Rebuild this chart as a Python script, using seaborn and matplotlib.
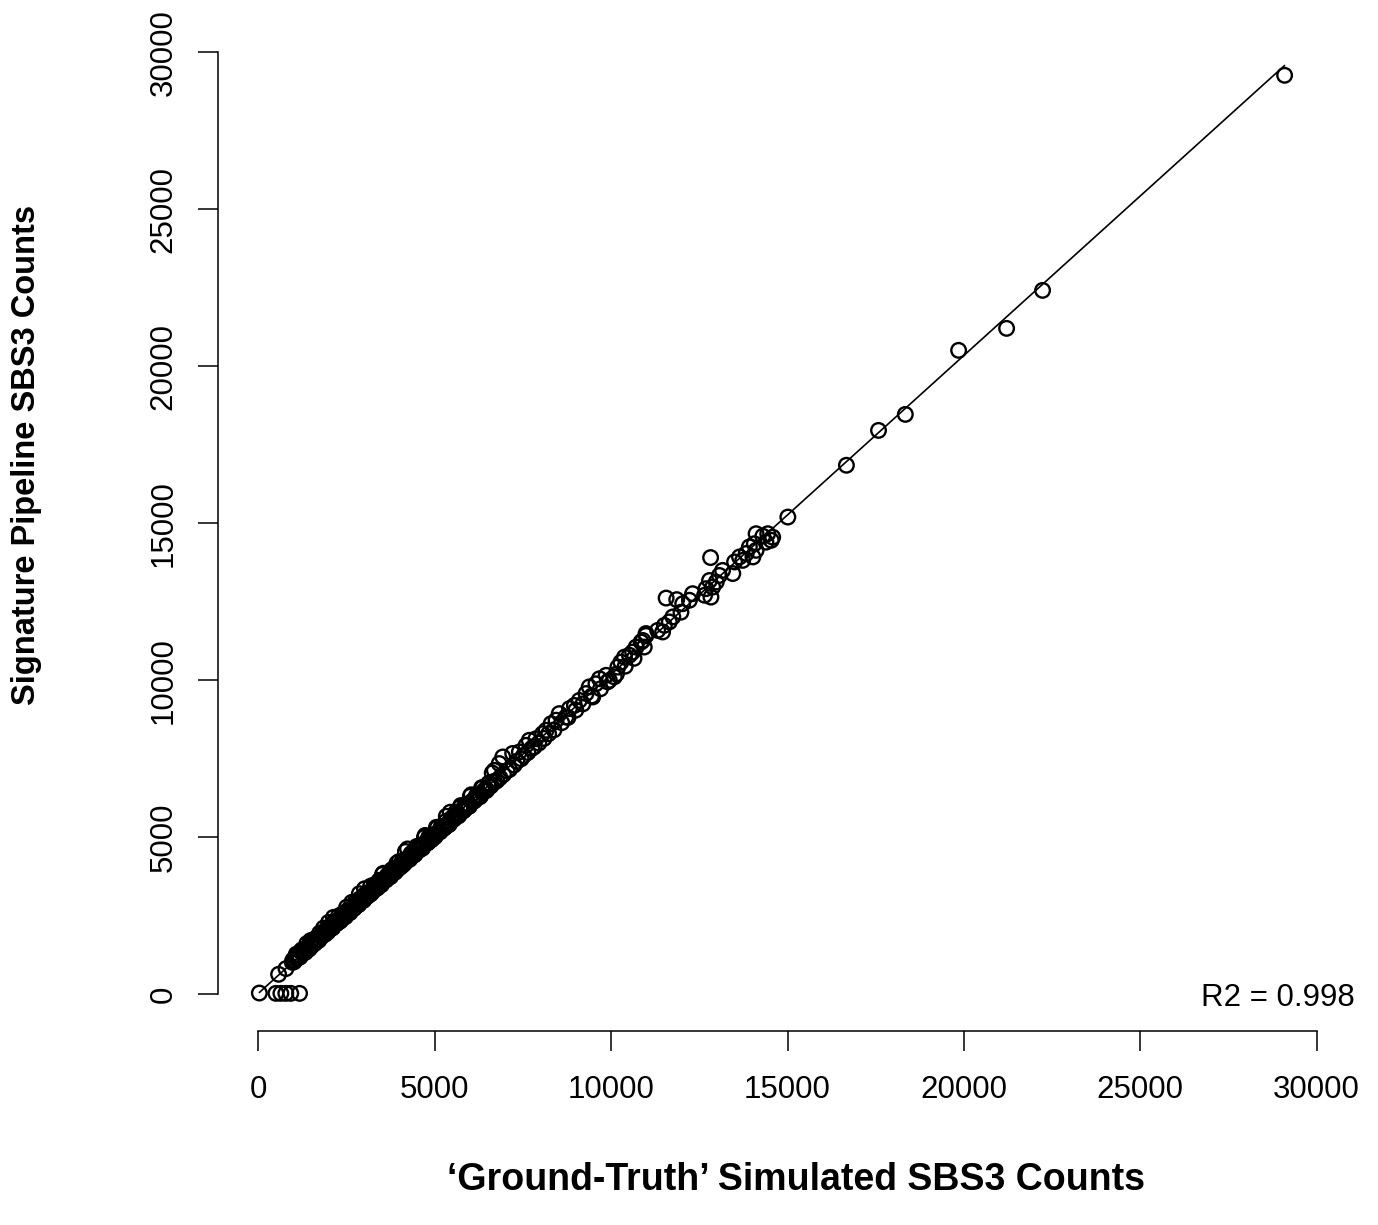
import numpy as np
import pandas as pd
import matplotlib
matplotlib.use("Agg")
import matplotlib.pyplot as plt
import seaborn as sns

sns.set_style("ticks")
plt.rcParams['font.family'] = ['Liberation Sans', 'DejaVu Sans']
plt.rcParams['text.color'] = 'black'
plt.rcParams['axes.labelcolor'] = 'black'
plt.rcParams['xtick.color'] = 'black'
plt.rcParams['ytick.color'] = 'black'

# Samples whose pipeline count collapsed to ~0
zero_truth = [30, 500, 640, 780, 920, 1170]
zero_pipe = [40, 30, 30, 30, 30, 30]

# Low-count samples near the origin
low_truth = [576, 785]
low_pipe = [637, 818]

# Dense bulk of samples (1k - 6.6k)
band_truth = [960, 1010, 1060, 1100, 1150, 1190, 1230, 1280, 1320, 1350, 1400, 1440, 1480, 1520,
              1560, 1600, 1640, 1690, 1720, 1760, 1800, 1850, 1880, 1920, 1970, 2010, 2040, 2090,
              2130, 2170, 2200, 2250, 2290, 2320, 2370, 2410, 2450, 2480, 2530, 2570, 2600, 2650,
              2690, 2730, 2760, 2810, 2850, 2880, 2930, 2970, 3010, 3040, 3090, 3130, 3170, 3200,
              3250, 3290, 3330, 3360, 3410, 3450, 3490, 3520, 3570, 3610, 3650, 3680, 3730, 3770,
              3810, 3850, 3880, 3930, 3970, 4010, 4050, 4080, 4130, 4170, 4210, 4250, 4290, 4330,
              4370, 4410, 4450, 4490, 4530, 4570, 4610, 4650, 4690, 4730, 4770, 4810, 4850, 4890,
              4930, 4970, 5010, 5050, 5090, 5140, 5180, 5220, 5270, 5310, 5350, 5400, 5440, 5490,
              5530, 5580, 5620, 5670, 5720, 5760, 5810, 5860, 5910, 5960, 6010, 6060, 6110, 6170,
              6220, 6280, 6330, 6390, 6450, 6510, 6570, 6630]
band_pipe = [1020, 1030, 1200, 1140, 1240, 1200, 1410, 1330, 1350, 1460, 1470, 1440, 1710, 1560,
             1650, 1620, 1790, 1750, 1730, 1860, 1840, 2110, 1910, 2000, 1985, 2140, 2090, 2110,
             2450, 2230, 2300, 2280, 2360, 2330, 2550, 2450, 2540, 2500, 2670, 2630, 2600, 2930,
             2740, 2840, 2790, 2890, 2860, 3040, 2970, 2990, 3360, 3110, 3120, 3250, 3220, 3210,
             3340, 3490, 3370, 3380, 3540, 3510, 3490, 3820, 3650, 3640, 3760, 3730, 3750, 3940,
             3850, 3940, 3890, 4180, 4030, 4040, 4170, 4150, 4150, 4550, 4260, 4350, 4300, 4480,
             4410, 4490, 4470, 4710, 4590, 4600, 4740, 4650, 4780, 5060, 4820, 4830, 5010, 4960,
             4970, 5080, 5020, 5320, 5150, 5170, 5320, 5300, 5290, 5500, 5400, 5400, 5800, 5580,
             5570, 5700, 5680, 5680, 5950, 5830, 5840, 6010, 5960, 5980, 6310, 6150, 6150, 6300,
             6280, 6290, 6580, 6470, 6480, 6690, 6620, 7050]

band2_truth = [985, 1035, 1080, 1125, 1170, 1210, 1255, 1300, 1335, 1375, 1420, 1460, 1500, 1540,
               1580, 1620, 1665, 1705, 1740, 1780, 1825, 1865, 1900, 1945, 1990, 2025, 2065, 2110,
               2150, 2185, 2225, 2270, 2305, 2345, 2390, 2430, 2465, 2505, 2550, 2585, 2625, 2670,
               2710, 2745, 2785, 2830, 2865, 2905, 2950, 2990, 3025, 3065, 3110, 3150, 3185, 3225,
               3270, 3310, 3345, 3385, 3430, 3470, 3505, 3545, 3590, 3630, 3665, 3705, 3750, 3790,
               3830, 3865, 3905, 3950, 3990, 4030, 4065, 4105, 4150, 4190, 4230, 4270, 4310, 4350,
               4390, 4430, 4470, 4510, 4550, 4590, 4630, 4670, 4710, 4750, 4790, 4830, 4870, 4910,
               4950, 4990, 5030, 5070, 5115, 5160, 5200, 5245, 5290, 5330, 5375, 5420, 5465, 5510,
               5555, 5600, 5645, 5695, 5740, 5785, 5835, 5885, 5935, 5985, 6035, 6085, 6140, 6195,
               6250, 6305, 6360, 6420, 6480, 6540, 6600, 6665]
band2_pipe = [1095, 1065, 1280, 1195, 1180, 1360, 1305, 1390, 1335, 1615, 1460, 1580, 1520, 1620,
              1750, 1650, 1725, 1715, 1950, 1870, 1875, 1995, 1920, 2015, 2290, 2065, 2165, 2120,
              2310, 2245, 2255, 2490, 2385, 2365, 2530, 2480, 2465, 2775, 2640, 2625, 2735, 2730,
              2730, 2935, 2855, 2860, 3205, 2955, 3050, 3000, 3175, 3105, 3190, 3170, 3445, 3285,
              3300, 3430, 3435, 3395, 3630, 3520, 3545, 3855, 3660, 3650, 3795, 3765, 3750, 3970,
              3910, 3905, 4015, 3980, 4230, 4090, 4085, 4255, 4240, 4230, 4630, 4340, 4340, 4470,
              4440, 4440, 4670, 4590, 4590, 4730, 4690, 4690, 5000, 4840, 4820, 5000, 4920, 4920,
              5070, 5060, 5070, 5300, 5175, 5180, 5350, 5335, 5320, 5670, 5425, 5430, 5595, 5590,
              5595, 5800, 5705, 5715, 6010, 5875, 5865, 6045, 5985, 5995, 6355, 6155, 6180, 6335,
              6310, 6325, 6580, 6500, 6510, 6730, 6650, 6775]

# Mid-range samples (6.6k - 11k)
mid_truth = [6690, 6700, 6760, 6830, 6850, 6930, 6950, 7050, 7120, 7210, 7250, 7330, 7400, 7450,
             7520, 7590, 7640, 7680, 7750, 7820, 7870, 7950, 8060, 8100, 8160, 8230, 8300, 8380,
             8440, 8530, 8600, 8720, 8780, 8820, 8960, 9000, 9100, 9200, 9290, 9380, 9450, 9480,
             9570, 9670, 9700, 9860, 9900, 9950, 10090, 10150, 10190, 10280, 10380, 10400, 10520,
             10610, 10650, 10710, 10850, 10900, 10940, 10990, 10990, 11320]
mid_pipe = [7130, 6760, 6800, 7350, 6900, 7560, 7000, 7120, 7160, 7670, 7300, 7420, 7720, 7500,
            7600, 7930, 7700, 8090, 7830, 7880, 8140, 8000, 8300, 8150, 8410, 8300, 8620, 8420,
            8730, 8940, 8650, 8830, 8820, 9100, 9200, 9050, 9360, 9250, 9580, 9790, 9500, 9470,
            9890, 10050, 9730, 10160, 9950, 10000, 10110, 10200, 10420, 10580, 10740, 10450, 10800,
            10900, 10700, 11060, 11220, 11270, 11060, 11430, 11490, 11590]

# Upper-range samples (11k - 15k)
high_truth = [11460, 11510, 11560, 11650, 11750, 11860, 11980, 12030, 12220, 12310, 12650, 12690,
              12790, 12820, 12830, 12880, 12980, 13070, 13160, 13450, 13500, 13640, 13730, 13830,
              13920, 14020, 14060, 14110, 14110, 14300, 14390, 14440, 14540, 14580, 15010]
high_pipe = [11540, 11750, 12620, 11860, 12020, 12570, 12170, 12440, 12550, 12760, 12710, 12920,
             13180, 13910, 12650, 12970, 13130, 13340, 13500, 13400, 13770, 13930, 13820, 14040,
             14250, 13930, 14350, 14670, 14140, 14590, 14400, 14670, 14460, 14560, 15200]

# Highest-count samples
top_truth = [16670, 17580, 18340, 19850, 21210, 22230, 29090]
top_pipe = [16850, 17960, 18470, 20510, 21210, 22420, 29270]

r_squared = 0.998

df = pd.DataFrame({
    "truth": zero_truth + low_truth + band_truth + band2_truth + mid_truth + high_truth + top_truth,
    "pipeline": zero_pipe + low_pipe + band_pipe + band2_pipe + mid_pipe + high_pipe + top_pipe,
})

W, H = 1378, 1225
fig = plt.figure(figsize=(W / 100, H / 100), dpi=100)
left_px, right_px, top_px, bottom_px = 218, 1328, 37, 1031
ax = fig.add_axes([left_px / W, 1 - bottom_px / H,
                   (right_px - left_px) / W, (bottom_px - top_px) / H])

sns.scatterplot(data=df, x="truth", y="pipeline", ax=ax, s=110, marker="o",
                facecolor="none", edgecolor="black", linewidth=1.7, legend=False, zorder=2)
sns.regplot(data=df, x="truth", y="pipeline", ax=ax, scatter=False, ci=None,
            truncate=True, color="black", line_kws={"linewidth": 1.2, "zorder": 3})

ax.set_xlim(-1142, 30320)
ax.set_ylim(-1169, 30490)

ticks = [0, 5000, 10000, 15000, 20000, 25000, 30000]
ax.set_xticks(ticks)
ax.set_yticks(ticks)
ax.set_xticklabels([str(t) for t in ticks])
ax.set_yticklabels([str(t) for t in ticks])
for lab in ax.get_yticklabels():
    lab.set_rotation(90)
    lab.set_va("center")

ax.tick_params(axis="both", length=14.5, width=1.1, color="black",
               labelsize=22.5, labelcolor="black", direction="out")
ax.tick_params(axis="x", pad=17)
ax.tick_params(axis="y", pad=14)

for side in ["top", "right"]:
    ax.spines[side].set_visible(False)
for side in ["left", "bottom"]:
    ax.spines[side].set_linewidth(1.1)
    ax.spines[side].set_color("black")
    ax.spines[side].set_bounds(0, 30000)

ax.set_xlabel("")
ax.set_ylabel("")
fig.text(796 / W, 1 - 1180 / H, "\u2018Ground-Truth\u2019 Simulated SBS3 Counts",
         ha="center", va="center", fontsize=27, fontweight="bold", color="black")
fig.text(27 / W, 1 - 455 / H, "Signature Pipeline SBS3 Counts",
         ha="center", va="center", rotation=90, fontsize=23.5, fontweight="bold", color="black")
fig.text(1355 / W, 1 - 998 / H, f"R2 = {r_squared:.3f}",
         ha="right", va="center", fontsize=22.5, color="black")

fig.savefig("out.png", dpi=100, facecolor="white")
